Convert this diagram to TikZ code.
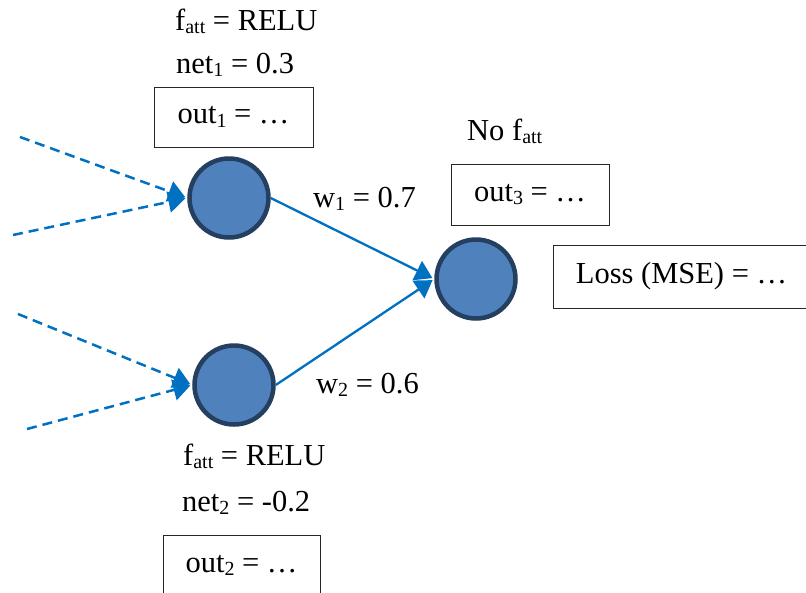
\documentclass[tikz,border=0pt]{standalone}
\usepackage{fontspec}
\setmainfont{Liberation Serif}
\usetikzlibrary{arrows.meta}
\definecolor{arrowblue}{HTML}{0070C0}
\definecolor{neuronfill}{HTML}{4F81BD}
\definecolor{neuronedge}{HTML}{243F60}
\newcommand\sbs[1]{\raisebox{-0.12em}{\fontsize{20}{20}\selectfont #1}}
\tikzset{
  neuron/.style={circle, draw=neuronedge, fill=neuronfill, line width=4.5pt, minimum size=79pt, inner sep=0pt},
  valbox/.style={draw=black!85, line width=0.9pt, inner sep=0pt, font=\fontsize{30.5}{34}\selectfont},
  lbl/.style={inner sep=0pt, anchor=base west, font=\fontsize{30.5}{34}\selectfont},
  inarrow/.style={draw=arrowblue, line width=2.5pt, dash pattern=on 10pt off 6pt, -{Triangle[length=17pt,width=21pt]}, shorten >=2pt},
  warrow/.style={draw=arrowblue, line width=2.3pt, -{Triangle[length=17pt,width=21pt]}, shorten >=2pt}
}
\begin{document}
\begin{tikzpicture}[x=1pt,y=-1pt]
\useasboundingbox (0,0) rectangle (806,592);
% neurons
\node[neuron] (c1) at (229,198) {};
\node[neuron] (c2) at (234,385) {};
\node[neuron] (c3) at (476,279) {};
% input start points
\coordinate (i1) at (20,137);
\coordinate (i2) at (13,235);
\coordinate (i3) at (18,314);
\coordinate (i4) at (27,429);
\draw[inarrow] (i1) -- (c1.west);
\draw[inarrow] (i2) -- (c1.west);
\draw[inarrow] (i3) -- (c2.west);
\draw[inarrow] (i4) -- (c2.west);
\draw[warrow] (c1.east) -- (c3.west);
\draw[warrow] (c2.east) -- (c3.west);
% labels
\node[lbl] (f1) at (175,30) {f\sbs{att} = RELU};
\node[lbl] (n1) at (176,73) {net\sbs{1} = 0.3};
\node[valbox, minimum width=159pt, minimum height=60pt] (o1) at (233.5,117) {out\sbs{1} = …};
\node[lbl] (nf) at (467,140) {No f\sbs{att}};
\node[valbox, minimum width=158pt, minimum height=61pt] (o3) at (530,194.5) {out\sbs{3} = …};
\node[valbox, minimum width=257pt, minimum height=63pt] (loss) at (681.5,276.5) {Loss (MSE) = …};
\node[lbl] (w1) at (313,207) {w\sbs{1} = 0.7};
\node[lbl] (w2) at (316,393) {w\sbs{2} = 0.6};
\node[lbl] (f2) at (183,465) {f\sbs{att} = RELU};
\node[lbl] (n2) at (182,511) {net\sbs{2} = -0.2};
\node[valbox, minimum width=157pt, minimum height=61pt] (o2) at (241.5,565.5) {out\sbs{2} = …};
\end{tikzpicture}
\end{document}
